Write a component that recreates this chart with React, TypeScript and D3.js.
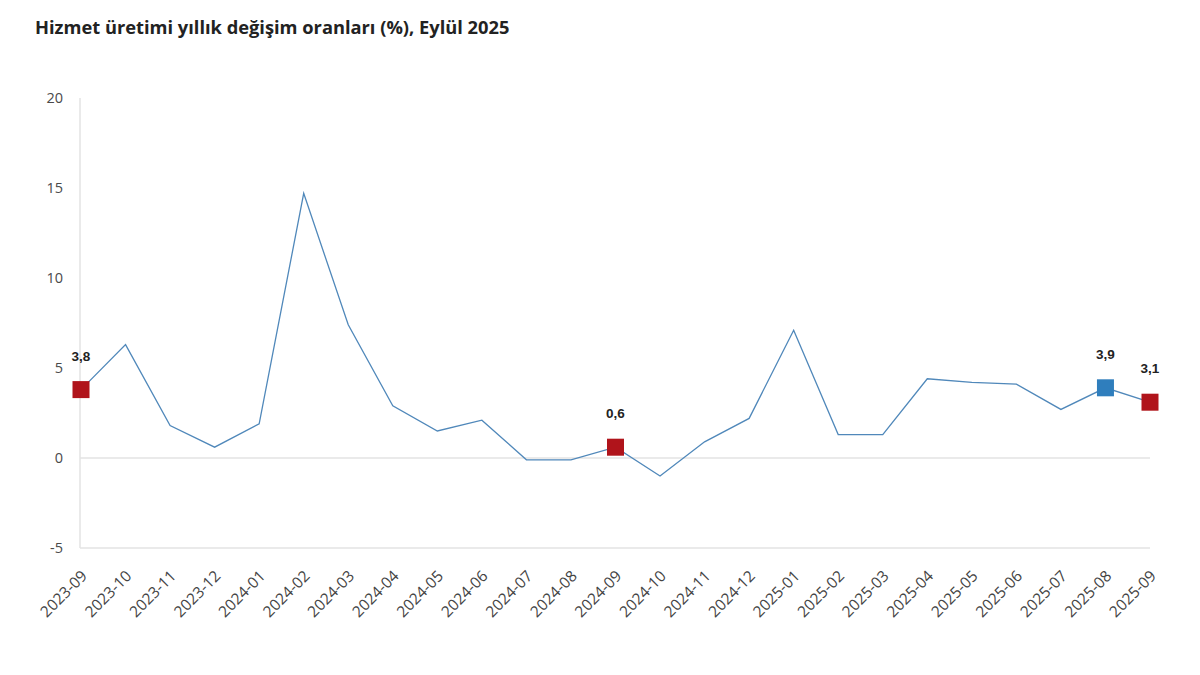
import { useEffect, useRef } from "react";
import * as d3 from "d3";

const months = [
  "2023-09", "2023-10", "2023-11", "2023-12", "2024-01", "2024-02", "2024-03",
  "2024-04", "2024-05", "2024-06", "2024-07", "2024-08", "2024-09", "2024-10",
  "2024-11", "2024-12", "2025-01", "2025-02", "2025-03", "2025-04", "2025-05",
  "2025-06", "2025-07", "2025-08", "2025-09",
];
const values = [
  3.8, 6.3, 1.8, 0.6, 1.9, 14.7, 7.4, 2.9, 1.5, 2.1, -0.1, -0.1, 0.6, -1.0,
  0.9, 2.2, 7.1, 1.3, 1.3, 4.4, 4.2, 4.1, 2.7, 3.9, 3.1,
];
const yTicks = [-5, 0, 5, 10, 15, 20];
// highlighted points
const redMarks = ["2023-09", "2024-09", "2025-09"];
const blueMarks = ["2025-08"];

const App = () => {
  const ref = useRef<SVGSVGElement | null>(null);

  useEffect(() => {
    const svg = d3.select(ref.current);
    svg.selectAll("*").remove();

    const left = 80;
    const right = 1150;
    const top = 98;
    const bottom = 548;

    const x = d3.scalePoint<string>().domain(months).range([left + 1, right]);
    const y = d3.scaleLinear().domain([-5, 20]).range([bottom, top]);

    // title
    svg
      .append("text")
      .attr("x", 35)
      .attr("y", 34)
      .attr("font-family", "Open Sans, sans-serif")
      .attr("font-weight", 700)
      .attr("font-size", 18.3)
      .attr("fill", "#222")
      .text("Hizmet üretimi yıllık değişim oranları (%), Eylül 2025");

    // left axis line
    svg
      .append("line")
      .attr("x1", left)
      .attr("x2", left)
      .attr("y1", top)
      .attr("y2", bottom)
      .attr("stroke", "#e3e3e3")
      .attr("stroke-width", 1.5);

    // zero line and bottom line
    [0, -5].forEach((v) => {
      svg
        .append("line")
        .attr("x1", left)
        .attr("x2", right)
        .attr("y1", y(v))
        .attr("y2", y(v))
        .attr("stroke", "#e3e3e3")
        .attr("stroke-width", 1.5);
    });

    // y tick labels
    svg
      .append("g")
      .selectAll("text")
      .data(yTicks)
      .enter()
      .append("text")
      .attr("x", 63)
      .attr("y", (d) => y(d))
      .attr("dy", "0.35em")
      .attr("text-anchor", "end")
      .attr("font-family", "Open Sans, sans-serif")
      .attr("font-size", 14.5)
      .attr("fill", "#4a4a4a")
      .text((d) => d);

    // x tick labels (rotated)
    svg
      .append("g")
      .selectAll("text")
      .data(months)
      .enter()
      .append("text")
      .attr(
        "transform",
        (d) => `translate(${(x(d) as number) + 7},${bottom + 29}) rotate(-45)`
      )
      .attr("text-anchor", "end")
      .attr("font-family", "Open Sans, sans-serif")
      .attr("font-size", 15.5)
      .attr("fill", "#444")
      .text((d) => d);

    // line
    const line = d3
      .line<number>()
      .x((_, i) => x(months[i]) as number)
      .y((d) => y(d));

    svg
      .append("path")
      .datum(values)
      .attr("d", line)
      .attr("fill", "none")
      .attr("stroke", "#5088ba")
      .attr("stroke-width", 1.3);

    // markers
    const marks = [
      ...redMarks.map((m) => ({ m, c: "#b0141b" })),
      ...blueMarks.map((m) => ({ m, c: "#2f7ebd" })),
    ];
    const size = 17;
    marks.forEach(({ m, c }) => {
      const i = months.indexOf(m);
      const px = x(m) as number;
      const py = y(values[i]);
      svg
        .append("rect")
        .attr("x", px - size / 2)
        .attr("y", py - size / 2)
        .attr("width", size)
        .attr("height", size)
        .attr("fill", c);
      svg
        .append("text")
        .attr("x", px)
        .attr("y", py - 29)
        .attr("text-anchor", "middle")
        .attr("font-family", "Liberation Sans, Arial, sans-serif")
        .attr("font-weight", 700)
        .attr("font-size", 13.5)
        .attr("fill", "#222")
        .text(values[i].toString().replace(".", ","));
    });
  }, []);

  return (
    <svg
      ref={ref}
      width={1200}
      height={675}
      style={{ position: "absolute", left: 0, top: 0, background: "#fff" }}
    />
  );
};

export default App;
